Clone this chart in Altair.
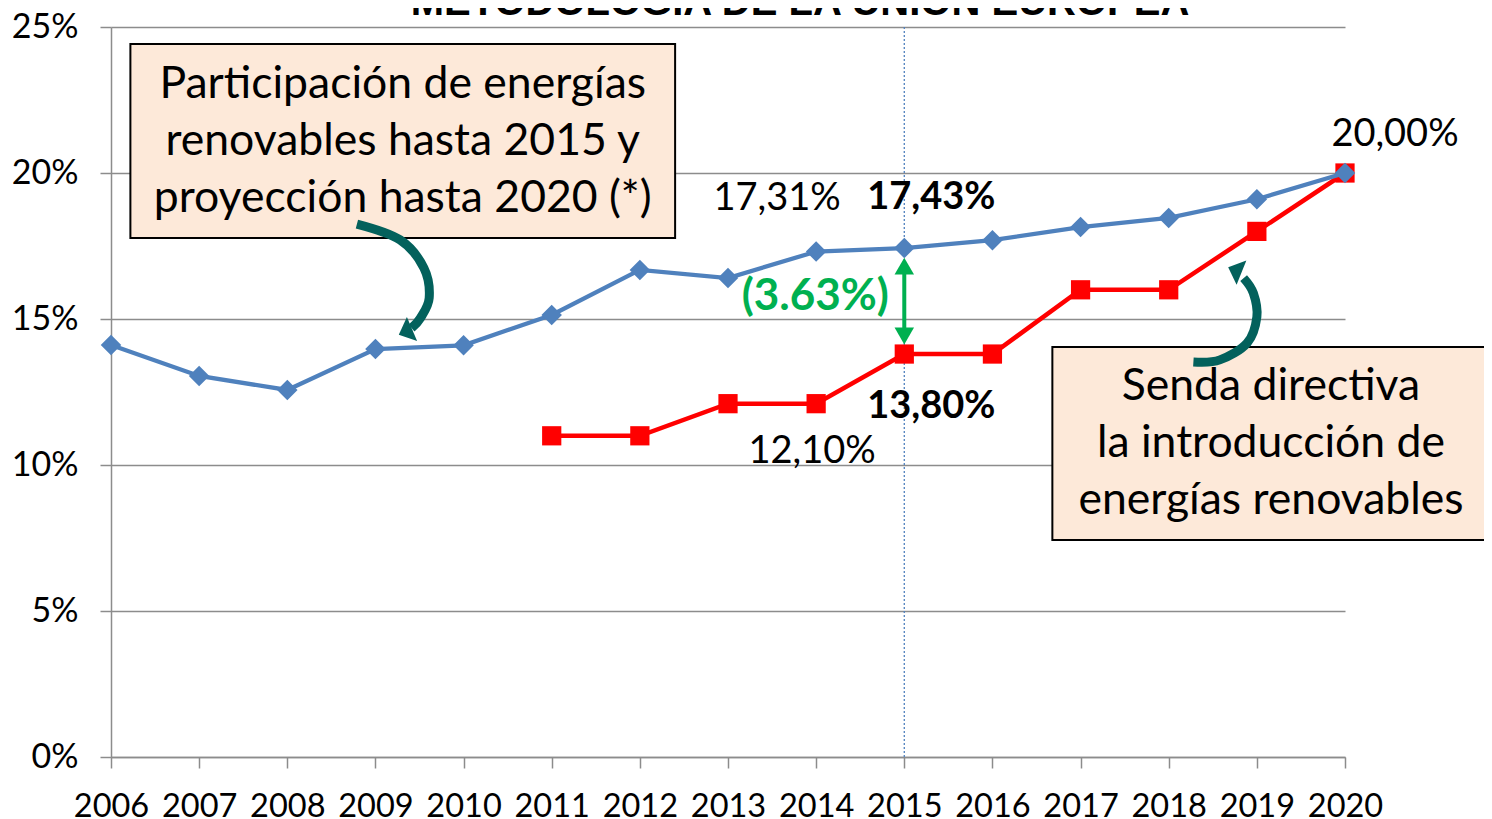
import altair as alt
import pandas as pd

# ---------------- data ----------------
years = list(range(2006, 2021))
blue_vals = [14.11, 13.05, 12.57, 13.97, 14.10, 15.14, 16.68, 16.40, 17.31, 17.43,
             17.70, 18.15, 18.46, 19.10, 20.00]
red_years = list(range(2011, 2021))
red_vals = [11.0, 11.0, 12.1, 12.1, 13.8, 13.8, 16.0, 16.0, 18.0, 20.0]

y_ticks = [0, 5, 10, 15, 20, 25]
title_text = "METODOLOGÍA DE LA UNIÓN EUROPEA"
box1_lines = ["Participación de energías", "renovables hasta 2015 y", "proyección hasta 2020 (*)"]
box2_lines = ["Senda directiva", "la introducción de", "energías renovables"]

# annotation geometry (data units)
box1 = dict(x=2006.22, x2=2012.40, y=24.42, y2=17.77)
box2 = dict(x=2016.68, x2=2021.80, y=14.04, y2=7.43)
box1_text_x = 2009.31
box1_text_y = [23.01, 21.06, 19.11]
box2_text_x = 2019.16
box2_text_y = [12.67, 10.72, 8.77]
arrow1_x = [2008.79, 2009.28, 2009.55, 2009.61, 2009.51, 2009.41]
arrow1_y = [18.25, 17.71, 16.75, 15.72, 15.03, 14.69]
arrow2_x = [2018.28, 2018.58, 2018.89, 2019.00, 2018.96, 2018.85]
arrow2_y = [13.53, 13.60, 14.18, 15.07, 15.89, 16.40]
heads_x = [2009.34, 2018.75]
heads_y = [14.56, 16.68]
heads_angle = [247, 292]

W, H = 1234, 730
BLUE = "#4F81BD"
RED = "#FF0000"
GREEN = "#00B050"
TEAL = "#03615C"
FONT = "Lato"
AXC = "#8c8c8c"
WIDE_TRIANGLE = "M0,-0.55 L1,0.55 L-1,0.55 Z"

xs = alt.Scale(domain=[2006, 2020], nice=False, zero=False)
ys = alt.Scale(domain=[0, 25], nice=False, zero=False)

x_axis = alt.Axis(values=years, format="d", grid=False, tickSize=11, labelPadding=22,
                  labelFontSize=32.5, labelFont=FONT, labelColor="black", title=None,
                  domainColor=AXC, tickColor=AXC, domainWidth=1.5, tickWidth=1.5,
                  labelFlush=False, labelOverlap=False)
y_axis = alt.Axis(values=y_ticks, labelExpr="datum.value + '%'", grid=True, tickSize=11,
                  labelPadding=22, labelFontSize=34, labelFont=FONT, labelColor="black",
                  title=None, domainColor=AXC, tickColor=AXC, gridColor=AXC,
                  gridWidth=1.5, domainWidth=1.5, tickWidth=1.5, labelFlush=False,
                  labelOverlap=False)


def X(field="year"):
    return alt.X(f"{field}:Q", scale=xs, axis=x_axis)


def Y(field="value"):
    return alt.Y(f"{field}:Q", scale=ys, axis=y_axis)


blue_df = pd.DataFrame({"year": years, "value": blue_vals})
red_df = pd.DataFrame({"year": red_years, "value": red_vals})

# dotted vertical line at 2015
vline = alt.Chart(pd.DataFrame({"year": [2015], "value": [0], "hi": [25]})).mark_rule(
    color=BLUE, strokeWidth=1.3, strokeDash=[2, 2]).encode(
    x=X(), y=Y(), y2="hi:Q")

# boxes
boxes_df = pd.DataFrame([box1, box2])
boxes = alt.Chart(boxes_df).mark_rect(fill="#FDE9D9", stroke="black", strokeWidth=2).encode(
    x=X("x"), x2="x2:Q", y=Y("y"), y2="y2:Q")

box_text_df = pd.DataFrame({
    "year": [box1_text_x] * 3 + [box2_text_x] * 3,
    "value": box1_text_y + box2_text_y,
    "text": box1_lines + box2_lines,
})
box_text = alt.Chart(box_text_df).mark_text(font=FONT, fontSize=44.5, color="black",
                                            baseline="middle", align="center").encode(
    x=X(), y=Y(), text="text:N")

# series
red_line = alt.Chart(red_df).mark_line(color=RED, strokeWidth=4.5).encode(x=X(), y=Y())
red_pts = alt.Chart(red_df).mark_point(shape="square", filled=True, size=370, color=RED,
                                       opacity=1).encode(x=X(), y=Y())
blue_line = alt.Chart(blue_df).mark_line(color=BLUE, strokeWidth=4.3).encode(x=X(), y=Y())
blue_pts = alt.Chart(blue_df).mark_point(shape="diamond", filled=True, size=420, color=BLUE,
                                         opacity=1).encode(x=X(), y=Y())

# curved arrows
arrows_df = pd.DataFrame({
    "year": arrow1_x + arrow2_x,
    "value": arrow1_y + arrow2_y,
    "arrow": ["a"] * len(arrow1_x) + ["b"] * len(arrow2_x),
    "order": list(range(len(arrow1_x))) + list(range(len(arrow2_x))),
})
arrows = alt.Chart(arrows_df).mark_line(color=TEAL, strokeWidth=9, interpolate="cardinal").encode(
    x=X(), y=Y(), detail="arrow:N", order="order:Q")
heads_df = pd.DataFrame({"year": heads_x, "value": heads_y, "ang": heads_angle})
heads = alt.Chart(heads_df).mark_point(shape=WIDE_TRIANGLE, filled=True, size=680, color=TEAL,
                                       opacity=1).encode(
    x=X(), y=Y(), angle=alt.Angle("ang:Q", scale=None))

# green double arrow at 2015
i15 = years.index(2015)
j15 = red_years.index(2015)
top_v, bot_v = blue_vals[i15], red_vals[j15]
gap = top_v - bot_v
darrow = alt.Chart(pd.DataFrame({"year": [2015], "value": [bot_v + 0.6], "hi": [top_v - 0.6]})).mark_rule(
    color=GREEN, strokeWidth=4).encode(x=X(), y=Y(), y2="hi:Q")
dheads = alt.Chart(pd.DataFrame({"year": [2015, 2015], "value": [top_v - 0.62, bot_v + 0.62],
                                 "ang": [0, 180]})).mark_point(
    shape="triangle-up", filled=True, size=380, color=GREEN, opacity=1).encode(
    x=X(), y=Y(), angle=alt.Angle("ang:Q", scale=None))


def fmt(v):
    return f"{v:.2f}".replace(".", ",") + "%"


def label(yr, val, txt, dx, dy, bold=False, color="black", size=38):
    df = pd.DataFrame({"year": [yr], "value": [val], "text": [txt]})
    return alt.Chart(df).mark_text(dx=dx, dy=dy, font=FONT, fontSize=size,
                                   fontWeight="bold" if bold else "normal", color=color,
                                   align="center", baseline="middle").encode(
        x=X(), y=Y(), text="text:N")


i14 = years.index(2014)
j14 = red_years.index(2014)
labels = [
    label(2014, blue_vals[i14], fmt(blue_vals[i14]), -39, -53),
    label(2015, top_v, fmt(top_v), 27, -50, bold=True),
    label(2015, bot_v, fmt(bot_v), 27, 53, bold=True),
    label(2014, red_vals[j14], fmt(red_vals[j14]), -4, 48),
    label(2020, blue_vals[-1], fmt(blue_vals[-1]), 50, -38),
    label(2015, (top_v + bot_v) / 2, f"({gap:.2f}%)", -89, -4, bold=True, color=GREEN, size=44),
]

title = alt.Chart(pd.DataFrame({"t": [title_text]})).mark_text(
    font="Liberation Sans", fontSize=40, fontWeight="bold", color="black",
    align="center", baseline="alphabetic").encode(
    x=alt.value(689), y=alt.value(-12), text="t:N")

chart = alt.layer(
    vline, red_line, red_pts, blue_line, blue_pts, darrow, dheads,
    boxes, box_text, arrows, heads, *labels, title
).properties(
    width=W, height=H,
    autosize=alt.AutoSizeParams(type="none"),
    padding={"left": 103, "top": 19, "right": 139, "bottom": 64},
).configure_view(stroke=None)

chart.save("out.html", embed_options={"renderer": "svg", "actions": False})
